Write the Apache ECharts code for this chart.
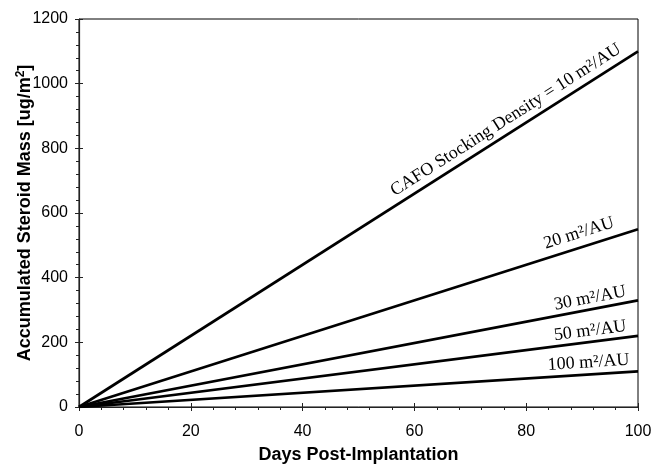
<!DOCTYPE html>
<html><head><meta charset="utf-8">
<script src="https://cdn.jsdelivr.net/npm/echarts@6/dist/echarts.min.js"></script>
<style>html,body{margin:0;padding:0;background:#fff}#c{width:654px;height:466px}</style>
</head><body><div id="c"></div>
<script>
// Data
var days = [0, 100];
var densityNames = ['10', '20', '30', '50', '100'];
var endValues = [1100, 550, 330, 220, 110];  // accumulated mass at day 100
var labelTexts = ['CAFO Stocking Density = 10 m\u00b2/AU', '20 m\u00b2/AU', '30 m\u00b2/AU', '50 m\u00b2/AU', '100 m\u00b2/AU'];
var labelAtDay = [77.6, 90.2, 91.8, 91.7, 91.3];
var labelGap = [13, 14, 11, 11, 12];
var xTicks = [0, 20, 40, 60, 80, 100];
var yTicks = [0, 200, 400, 600, 800, 1000, 1200];

var chart = echarts.init(document.getElementById('c'));
var series = endValues.map(function (v, i) {
  return {
    type: 'line', name: densityNames[i], xAxisIndex: 0, yAxisIndex: 0,
    data: [[days[0], 0], [days[1], v]],
    symbol: 'none', lineStyle: {color: '#000', width: 2.7}, animation: false
  };
});
var axisFont = {fontFamily: 'Liberation Sans, Arial', fontSize: 16, color: '#000'};
var titleStyle = {fontFamily: 'Liberation Sans, Arial', fontWeight: 'bold', fontSize: 18, color: '#000'};
function fmt(v) { return String(v); }
var xMin = xTicks[0], xMax = xTicks[xTicks.length - 1], xInt = xTicks[1] - xTicks[0];
var yMin = yTicks[0], yMax = yTicks[yTicks.length - 1], yInt = yTicks[1] - yTicks[0];
chart.setOption({
  animation: false,
  grid: {left: 79, right: 16, top: 19, bottom: 59, show: true, borderColor: '#000', borderWidth: 1,
         containLabel: false, outerBoundsMode: 'none'},
  xAxis: [{
    type: 'value', min: xMin, max: xMax, interval: xInt, position: 'bottom',
    name: 'Days Post-Implantation', nameLocation: 'middle', nameGap: 39, nameMoveOverlap: false,
    nameTextStyle: titleStyle,
    axisLine: {lineStyle: {color: '#222', width: 1.2}},
    axisTick: {show: true, length: 4, lineStyle: {color: '#222'}},
    minorTick: {show: true, splitNumber: 5, length: 3, lineStyle: {color: '#222'}},
    splitLine: {show: false},
    axisLabel: Object.assign({margin: 17, formatter: fmt}, axisFont)
  }, {
    type: 'value', min: xMin, max: xMax, interval: xInt, position: 'bottom',
    axisLine: {show: false},
    axisTick: {show: true, inside: true, length: 4, lineStyle: {color: '#222'}},
    axisLabel: {show: false}, splitLine: {show: false}
  }],
  yAxis: [{
    type: 'value', min: yMin, max: yMax, interval: yInt, position: 'left',
    name: '{a|Accumulated Steroid Mass [ug/m}{s|2}{a|]}', nameLocation: 'middle', nameGap: 43, nameMoveOverlap: false,
    nameTextStyle: {
      rich: {
        a: titleStyle,
        s: {fontFamily: 'Liberation Sans, Arial', fontWeight: 'bold', fontSize: 12, color: '#000', padding: [0, 0, 9, 0]}
      }
    },
    axisLine: {show: true, lineStyle: {color: '#222', width: 1.2}},
    axisTick: {show: true, length: 4, lineStyle: {color: '#222'}},
    minorTick: {show: true, splitNumber: 5, length: 3, lineStyle: {color: '#222'}},
    splitLine: {show: false},
    axisLabel: Object.assign({margin: 11, formatter: fmt}, axisFont)
  }, {
    type: 'value', min: yMin, max: yMax, interval: yInt, position: 'left',
    axisLine: {show: false},
    axisTick: {show: true, inside: true, length: 4, lineStyle: {color: '#222'}},
    axisLabel: {show: false}, splitLine: {show: false}
  }],
  series: series
});

// annotations along lines
var graphics = endValues.map(function (v, i) {
  var x = labelAtDay[i];
  var y = v * x / days[1];
  var p = chart.convertToPixel({gridIndex: 0}, [x, y]);
  var p0 = chart.convertToPixel({gridIndex: 0}, [0, 0]);
  var p1 = chart.convertToPixel({gridIndex: 0}, [days[1], v]);
  var ang = Math.atan2(p0[1] - p1[1], p1[0] - p0[0]);
  return {
    type: 'text', x: p[0], y: p[1], rotation: ang, silent: true,
    style: {
      text: labelTexts[i], x: 0, y: -labelGap[i],
      align: 'center', verticalAlign: 'middle',
      font: '18px "Liberation Serif", "Times New Roman", serif', fill: '#000'
    }
  };
});
chart.setOption({graphic: graphics});
</script>
</body></html>
